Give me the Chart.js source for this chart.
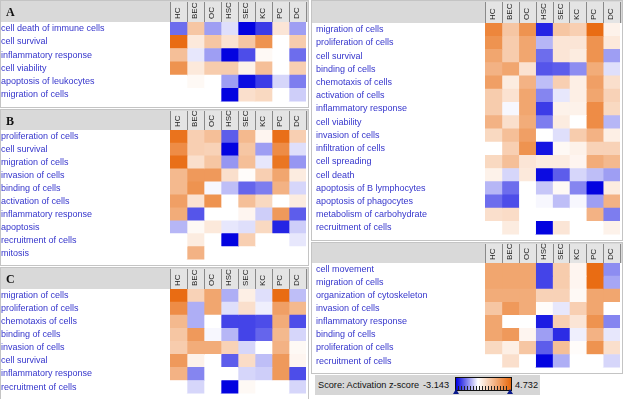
<!DOCTYPE html>
<html>
<head>
<meta charset="utf-8">
<script src="https://cdn.jsdelivr.net/npm/chart.js@4.4.1/dist/chart.umd.min.js"></script>
<style>
    body { margin: 0; background: #fff; width: 623px; height: 399px; overflow: hidden; position: relative; font-family: "Liberation Sans", Arial, sans-serif; }
    .panel { position: absolute; box-sizing: border-box; border: 1px solid #c4c4c4; background: #fff; }
    .panel .wrap { position: absolute; left: 0; top: 0; right: 0; bottom: 0; }
    .letter { position: absolute; font: bold 12px "Liberation Serif", serif; color: #111; pointer-events: none; }
    #legend { position: absolute; left: 315px; top: 375px; width: 225px; height: 20px; background: #d6d6d6; font-size: 9.2px; color: #111; }
    #legend span { position: absolute; top: 5px; white-space: nowrap; }
    #scaleBar { position: absolute; left: 140px; top: 2px; width: 55px; height: 12px; border: 1px solid #111;
        background: linear-gradient(to right, #0000e0 0%, #ffffff 40%, #e8680c 100%); }
    #scaleBar .ticks { position: absolute; left: 2px; right: 2px; bottom: 0; height: 4px;
        background: repeating-linear-gradient(to right, #222 0 1px, transparent 1px 3px); }
    .tri { position: absolute; top: 14px; width: 0; height: 0; border-left: 3px solid transparent; border-right: 3px solid transparent; border-bottom: 5px solid #0a1a8c; }
</style>
</head>
<body>

<div class="panel" id="pA"><div class="wrap"><canvas id="cA"></canvas></div></div>
<div class="panel" id="pB"><div class="wrap"><canvas id="cB"></canvas></div></div>
<div class="panel" id="pC"><div class="wrap"><canvas id="cC"></canvas></div></div>
<div class="panel" id="pD"><div class="wrap"><canvas id="cD"></canvas></div></div>
<div class="panel" id="pE"><div class="wrap"><canvas id="cE"></canvas></div></div>

<div id="legend">
    <span style="left:3px">Score: Activation z-score</span>
    <span style="left:108px">-3.143</span>
    <div id="scaleBar"><div class="ticks"></div></div>
    <div class="tri" style="left:138px"></div>
    <div class="tri" style="left:192px"></div>
    <span style="left:200px">4.732</span>
</div>

<script>
// cell types (columns, same for every panel)
const columns = ['HC', 'BEC', 'OC', 'HSC', 'SEC', 'KC', 'PC', 'DC'];
const zMin = -3.143, zMax = 4.732;

// Panel A
const rowsA = ['cell death of immune cells', 'cell survival', 'inflammatory response', 'cell viability',
    'apoptosis of leukocytes', 'migration of cells'];
const zA = [
    [-1.8, 1.8, -1.2, -0.4, -3.1, -2.4, 0.8, -1.2],
    [4.6, 0.7, 1.8, 0.9, 1.8, 3.4, null, 1.6],
    [2.0, -0.3, -1.2, -3.1, -2.2, 0.2, null, -1.8],
    [3.4, 0.7, 1.6, 1.6, 0.4, 2.0, null, 1.5],
    [null, 0.2, null, -1.2, -3.0, -2.4, -0.5, -1.6],
    [null, null, null, -3.1, 1.0, 1.2, null, -0.6]
];

// Panel B
const rowsB = ['proliferation of cells', 'cell survival', 'migration of cells', 'invasion of cells', 'binding of cells',
    'activation of cells', 'inflammatory response', 'apoptosis', 'recruitment of cells', 'mitosis'];
const zB = [
    [4.4, 1.5, 2.0, -2.0, 2.2, 0.3, 4.5, 1.5],
    [3.6, 1.5, 1.4, -3.1, 1.8, -1.2, 3.6, -0.4],
    [4.5, 1.0, 1.8, -1.3, 2.0, -0.3, 4.3, -1.3],
    [2.2, 3.2, 3.2, 1.0, 0.1, 1.5, 2.8, 0.6],
    [2.2, 3.4, -0.1, -0.8, -1.9, -1.6, 2.4, -0.5],
    [3.0, 0.9, 3.4, null, 2.0, 1.2, null, 0.6],
    [2.6, -2.1, null, null, 0.3, -0.6, 3.2, -2.0],
    [-0.9, 0.2, 0.7, -0.3, -0.4, 1.2, -2.7, -0.6],
    [null, 0.6, null, -3.1, 1.5, null, null, -0.3],
    [null, 2.4, null, null, null, null, null, null]
];

// Panel C
const rowsC = ['migration of cells', 'proliferation of cells', 'chemotaxis of cells', 'binding of cells',
    'invasion of cells', 'cell survival', 'inflammatory response', 'recruitment of cells'];
const zC = [
    [4.6, 1.4, 2.8, -1.0, 0.5, -0.4, 4.6, -0.8],
    [3.6, -1.0, 2.8, -0.4, 1.0, -0.2, 3.0, 2.2],
    [2.2, -1.0, null, -2.3, -2.3, -2.2, 2.6, -2.2],
    [1.8, 3.2, -0.1, -0.9, -2.3, -1.9, 2.2, -0.5],
    [1.6, 2.6, 2.6, 1.4, -0.5, null, 2.4, 0.2],
    [3.2, 0.4, null, -2.0, 1.1, -0.8, 3.2, 0.3],
    [2.4, -1.5, null, null, -0.5, -0.6, 3.2, -2.2],
    [null, -0.5, null, -3.1, 0.2, null, null, -0.5]
];

// Panel D
const rowsD = ['migration of cells', 'proliferation of cells', 'cell survival', 'binding of cells', 'chemotaxis of cells',
    'activation of cells', 'inflammatory response', 'cell viability', 'invasion of cells', 'infiltration of cells',
    'cell spreading', 'cell death', 'apoptosis of B lymphocytes', 'apoptosis of phagocytes',
    'metabolism of carbohydrate', 'recruitment of cells'];
const zD = [
    [3.8, 1.8, 3.4, -2.7, 1.8, 1.5, 4.6, 0.4],
    [3.4, 1.6, 2.8, -0.9, 0.8, 0.8, 3.4, 0.7],
    [2.8, 1.6, 2.8, -1.8, 0.8, 0.6, 3.4, -1.2],
    [2.4, 2.8, 0.9, -2.1, -2.0, -1.4, 2.6, -0.4],
    [3.0, 0.6, 2.4, -0.8, 1.5, 0.5, 3.0, 1.0],
    [1.6, 0.9, 2.8, -1.5, -0.3, 0.5, 2.8, 1.4],
    [1.6, -0.1, 2.8, -2.4, 0.4, 0.4, 3.6, 1.2],
    [2.4, 1.0, 2.6, -1.6, 0.6, 0.0, 3.6, -0.9],
    [1.2, 2.0, 3.0, null, -0.4, 1.6, 2.4, 0.5],
    [null, 1.5, 3.4, -2.9, 0.2, 0.4, 1.4, 1.4],
    [1.2, 2.0, 0.8, 0.6, 0.6, 0.3, 2.6, 2.2],
    [0.4, -0.5, 0.7, -3.0, -2.0, -0.5, -0.8, -1.2],
    [-0.9, -1.8, null, -0.7, 0.2, -1.5, -3.1, 0.6],
    [-1.8, -2.2, null, -0.1, -0.8, -0.1, -1.2, 2.4],
    [1.0, 1.1, null, null, null, null, 2.4, -1.6],
    [null, 0.6, null, -3.1, 0.8, null, null, 0.4]
];

// Panel E
const rowsE = ['cell movement', 'migration of cells', 'organization of cytoskeleton', 'invasion of cells',
    'inflammatory response', 'binding of cells', 'proliferation of cells', 'recruitment of cells'];
const zE = [
    [2.8, 2.8, 2.8, -2.3, 1.6, 0.3, 4.6, -1.4],
    [2.8, 2.8, 2.8, -2.3, 1.6, 0.3, 4.6, -1.1],
    [2.6, 2.6, 2.6, 1.4, 1.4, 0.2, 2.8, 2.8],
    [1.8, 3.2, 2.6, 0.1, -0.3, 1.5, 2.8, 0.0],
    [2.8, null, null, -2.8, 1.5, 0.8, 3.4, -1.5],
    [2.8, 3.2, 0.3, -1.2, -2.6, -0.2, 2.4, -0.3],
    [1.2, 0.5, 1.8, -2.0, 2.0, 0.1, 3.4, 1.0],
    [null, 1.0, null, -3.1, -1.0, null, null, -0.5]
];

// white -> orange for positive, white -> blue for negative
function zColor(v) {
    if (v === null) return '#ffffff';
    let r, g, b;
    if (v >= 0) {
        let t = Math.min(v / zMax, 1);
        r = 255 - t * (255 - 232); g = 255 - t * (255 - 104); b = 255 - t * (255 - 12);
    } else {
        let t = Math.min(v / zMin, 1);
        r = 255 - t * 255; g = 255 - t * 255; b = 255 - t * (255 - 224);
    }
    return `rgb(${Math.round(r)},${Math.round(g)},${Math.round(b)})`;
}

// gray header strip with boxed column names
const headerPlugin = {
    id: 'header',
    beforeDraw(chart) {
        const ctx = chart.ctx, area = chart.chartArea;
        ctx.save();
        ctx.fillStyle = '#d9d9d9';
        ctx.fillRect(0, 0, chart.width, area.top);
        let w = (area.right - area.left) / columns.length;
        ctx.fillStyle = '#e4e4e4';
        ctx.fillRect(area.left, 1, area.right - area.left, area.top - 1);
        ctx.strokeStyle = '#8a8a8a';
        ctx.lineWidth = 1;
        for (let i = 0; i <= columns.length; i++) {
            let x = Math.round(area.left + i * w) + 0.5;
            ctx.beginPath();
            ctx.moveTo(x, 1);
            ctx.lineTo(x, area.top);
            ctx.stroke();
        }
        ctx.restore();
    }
};

function makePanel(id, letter, rows, z, box) {
    const panel = document.getElementById('p' + id);
    panel.style.left = box.x + 'px';
    panel.style.top = box.y + 'px';
    panel.style.width = box.w + 'px';
    panel.style.height = box.h + 'px';

    const lab = document.createElement('div');
    lab.className = 'letter';
    lab.textContent = letter;
    lab.style.left = (box.labelX + 4) + 'px';
    lab.style.top = '4px';
    panel.appendChild(lab);

    const innerX = box.x + 1, innerY = box.y + 1;
    const datasets = columns.map((c, j) => ({
        label: c,
        data: rows.map(() => 1),
        zs: z.map(r => r[j]),
        backgroundColor: z.map(r => zColor(r[j])),
        borderWidth: 0,
        barPercentage: 1,
        categoryPercentage: 1
    }));

    new Chart(document.getElementById('c' + id), {
        type: 'bar',
        data: { labels: rows, datasets: datasets },
        plugins: [headerPlugin],
        options: {
            indexAxis: 'y',
            responsive: true,
            maintainAspectRatio: false,
            animation: false,
            layout: {
                padding: {
                    left: box.labelX - innerX,
                    right: (box.x + box.w - 1) - box.gridR,
                    top: 0,
                    bottom: (box.y + box.h - 1) - box.gridB
                }
            },
            plugins: {
                legend: { display: false },
                tooltip: {
                    callbacks: {
                        label: ctx => ctx.dataset.label + ': ' +
                            (ctx.dataset.zs[ctx.dataIndex] === null ? 'n/a' : ctx.dataset.zs[ctx.dataIndex])
                    }
                }
            },
            scales: {
                x: { type: 'linear', stacked: true, min: 0, max: columns.length, display: false },
                x2: {
                    type: 'category',
                    labels: columns,
                    position: 'top',
                    offset: true,
                    grid: { display: false, drawTicks: false },
                    border: { display: false },
                    ticks: {
                        autoSkip: false,
                        minRotation: 90,
                        maxRotation: 90,
                        padding: 3,
                        labelOffset: 9,
                        color: '#222',
                        font: { family: 'Liberation Sans', size: 8 }
                    },
                    afterFit: s => { s.height = box.gridT - innerY; }
                },
                y: {
                    stacked: true,
                    grid: { display: false, drawTicks: false },
                    border: { display: false },
                    ticks: {
                        autoSkip: false,
                        crossAlign: 'far',
                        padding: 0,
                        color: '#3535cc',
                        font: { family: 'Liberation Sans', size: 9 }
                    },
                    afterFit: s => { s.width = box.gridL - box.labelX; }
                }
            }
        }
    });
}

makePanel('A', 'A', rowsA, zA, { x: 0, y: 0, w: 309, h: 108, gridL: 170, gridR: 306, gridT: 22, gridB: 106, labelX: 1 });
makePanel('B', 'B', rowsB, zB, { x: 0, y: 109, w: 309, h: 157, gridL: 170, gridR: 306, gridT: 130, gridB: 265, labelX: 1 });
makePanel('C', 'C', rowsC, zC, { x: 0, y: 267, w: 309, h: 133, gridL: 170, gridR: 306, gridT: 289, gridB: 398, labelX: 1 });
makePanel('D', 'D', rowsD, zD, { x: 311, y: 0, w: 312, h: 241, gridL: 485, gridR: 620, gridT: 23, gridB: 240, labelX: 316 });
makePanel('E', 'E', rowsE, zE, { x: 311, y: 242, w: 312, h: 132, gridL: 485, gridR: 620, gridT: 263, gridB: 372, labelX: 316 });
</script>
</body>
</html>
